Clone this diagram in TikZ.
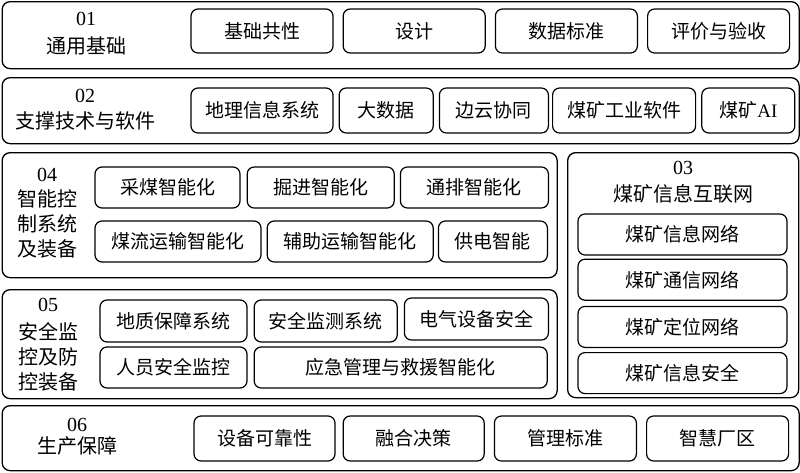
\documentclass[tikz,border=0pt]{standalone}
\usepackage{fontspec}
\setmainfont{Liberation Serif}
\newfontfamily\cjk{Noto Sans CJK SC}
\usepackage{tikz}
\usetikzlibrary{positioning}

\begin{document}
\begin{tikzpicture}[
  x=1pt, y=-1pt,
  grp/.style={draw, line width=1.3pt, rounded corners=8pt, anchor=north west, inner sep=0pt},
  itm/.style={draw, line width=1.2pt, rounded corners=7pt, inner sep=0pt, minimum height=42pt, font=\cjk\fontsize{19}{22}\selectfont},
  lbl/.style={align=center, inner sep=0pt, font=\cjk\fontsize{20}{25}\selectfont},
  node distance=9pt
]
\useasboundingbox (0,0) rectangle (800,472);

% group frames
\node[grp, minimum width=797pt, minimum height=67pt] (g01) at (1.5,1) {};
\node[grp, minimum width=797pt, minimum height=66pt] (g02) at (1.5,77) {};
\node[grp, minimum width=555pt, minimum height=125pt] (g04) at (1.5,152) {};
\node[grp, minimum width=231pt, minimum height=245pt] (g03) at (567,152) {};
\node[grp, minimum width=555pt, minimum height=109pt] (g05) at (1.5,289) {};
\node[grp, minimum width=797pt, minimum height=65pt] (g06) at (1.5,405) {};

% 01
\node[lbl] (l01) at (86,34) {{\rmfamily 01}\\[3pt]通用基础};
\node[itm, minimum width=142pt, minimum height=44pt] (jcgx) at (262,31) {基础共性};
\node[itm, minimum width=142pt, minimum height=44pt, right=of jcgx] (sj) {设计};
\node[itm, minimum width=142pt, minimum height=44pt, right=of sj] (sjbz) {数据标准};
\node[itm, minimum width=142pt, minimum height=44pt, right=of sjbz] (pjys) {评价与验收};

% 02
\node[lbl] (l02) at (85,110) {{\rmfamily 02}\\[1pt]支撑技术与软件};
\node[itm, minimum width=142pt, minimum height=45pt] (dlxx) at (262,110.5) {地理信息系统};
\node[itm, minimum width=94pt, minimum height=45pt, right=5pt of dlxx] (dsj) {大数据};
\node[itm, minimum width=109pt, minimum height=45pt, right=5pt of dsj] (byxt) {边云协同};
\node[itm, minimum width=143pt, minimum height=45pt, right=3pt of byxt] (mkgy) {煤矿工业软件};
\node[itm, minimum width=93pt, minimum height=45pt, right=5pt of mkgy] (mkai) {煤矿{\rmfamily AI}};

% 04
\node[lbl] (l04) at (47,213) {{\rmfamily 04}\\智能控\\制系统\\及装备};
\node[itm, minimum width=145pt, minimum height=41pt] (cm) at (167.5,187.5) {采煤智能化};
\node[itm, minimum width=147pt, minimum height=41pt, right=6pt of cm] (jj) {掘进智能化};
\node[itm, minimum width=148pt, minimum height=41pt, right=5pt of jj] (tp) {通排智能化};
\node[itm, minimum width=166pt, minimum height=41pt] (mlys) at (178,241.5) {煤流运输智能化};
\node[itm, minimum width=166pt, minimum height=41pt, right=5pt of mlys] (fzys) {辅助运输智能化};
\node[itm, minimum width=109pt, minimum height=41pt, right=4pt of fzys] (gd) {供电智能};

% 03
\node[lbl] (l03) at (683,182) {{\rmfamily 03}\\[2pt]煤矿信息互联网};
\node[itm, minimum width=209pt, minimum height=41pt] (xxwl) at (682.5,234.5) {煤矿信息网络};
\node[itm, minimum width=209pt, minimum height=41pt, below=3pt of xxwl] (txwl) {煤矿通信网络};
\node[itm, minimum width=209pt, minimum height=41pt, below=5pt of txwl] (dwwl) {煤矿定位网络};
\node[itm, minimum width=209pt, minimum height=41pt, below=4pt of dwwl] (xxaq) {煤矿信息安全};

% 05
\node[lbl] (l05) at (48,345) {{\rmfamily 05}\\[3pt]安全监\\控及防\\控装备};
\node[itm, minimum width=147pt] (dzbz) at (173.5,321) {地质保障系统};
\node[itm, minimum width=143pt, right=6pt of dzbz] (aqjc) {安全监测系统};
\node[itm, minimum width=144pt, right=6pt of aqjc, yshift=2pt] (dqsb) {电气设备安全};
\node[itm, minimum width=147pt, minimum height=41pt] (rysq) at (173.5,367.5) {人员安全监控};
\node[itm, minimum width=293pt, minimum height=41pt, right=6pt of rysq] (yjgl) {应急管理与救援智能化};

% 06
\node[lbl] (l06) at (77,437) {{\rmfamily 06}\\[-3pt]生产保障};
\node[itm, minimum width=141pt, minimum height=45pt] (sbkk) at (264.5,438.5) {设备可靠性};
\node[itm, minimum width=141pt, minimum height=45pt, right=7pt of sbkk] (rhjc) {融合决策};
\node[itm, minimum width=142pt, minimum height=45pt, right=of rhjc] (glbz) {管理标准};
\node[itm, minimum width=142pt, minimum height=45pt, right=of glbz] (zhcq) {智慧厂区};
\end{tikzpicture}
\end{document}
